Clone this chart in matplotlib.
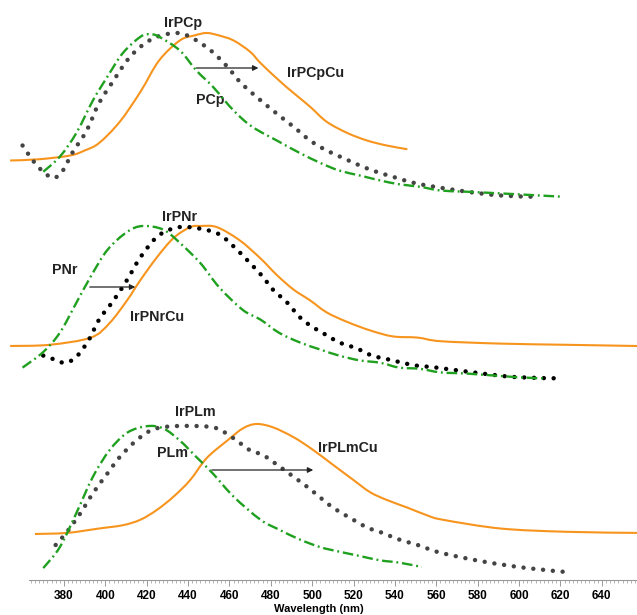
import numpy as np
import matplotlib
matplotlib.use("Agg")
import matplotlib.pyplot as plt
from matplotlib.path import Path
from matplotlib.patches import PathPatch

plt.rcParams['font.family'] = ['Liberation Sans', 'DejaVu Sans']

# --- panel 1: PCp / IrPCp / IrPCpCu (normalised intensity) ---
pcp_nm = [370, 378, 386, 394, 401, 408.5, 417, 421.5, 426, 436, 444, 452, 462, 471,
          484, 494, 504, 513, 523, 533, 542, 552, 562, 575, 599, 621]
pcp_int = [-0.11, 0.01, 0.20, 0.46, 0.65, 0.84, 0.97, 0.99, 0.97, 0.86, 0.70, 0.57,
           0.38, 0.25, 0.13, 0.04, -0.04, -0.10, -0.14, -0.18, -0.21, -0.23, -0.26,
           -0.27, -0.29, -0.31]
irpcp_nm = [360, 365, 370, 375, 379.5, 384, 391, 397, 404, 410.5, 417, 425, 435, 442,
            451, 459, 465, 473, 484, 491, 499, 507, 515, 523, 531, 539, 547, 555.5,
            575, 591, 607]
irpcp_int = [0.10, -0.02, -0.11, -0.16, -0.10, 0.04, 0.22, 0.44, 0.62, 0.78, 0.89, 0.97,
             1.0, 0.96, 0.86, 0.73, 0.61, 0.49, 0.34, 0.25, 0.14, 0.06, 0.0, -0.06,
             -0.11, -0.15, -0.19, -0.22, -0.27, -0.30, -0.31]
irpcpcu_nm = [354, 368, 383, 390, 397, 407, 417, 426, 436, 443, 449, 455, 462, 470,
              475, 484, 491, 499, 507, 517, 526.5, 536, 546]
irpcpcu_int = [-0.02, -0.01, 0.02, 0.06, 0.12, 0.29, 0.53, 0.78, 0.94, 0.98, 1.0, 0.98,
               0.94, 0.85, 0.76, 0.62, 0.52, 0.41, 0.29, 0.20, 0.14, 0.10, 0.07]

# --- panel 2: PNr / IrPNr / IrPNrCu ---
pnr_nm = [360, 370, 378, 386, 393, 401, 410.5, 418, 428, 436, 446, 455, 466.5, 475,
          484, 494, 504, 513, 523, 533, 542, 552, 562, 575, 599, 612.5]
pnr_int = [-0.18, -0.05, 0.11, 0.36, 0.58, 0.80, 0.95, 1.0, 0.97, 0.86, 0.69, 0.49,
           0.30, 0.22, 0.11, 0.03, -0.03, -0.08, -0.12, -0.14, -0.18, -0.19, -0.22,
           -0.23, -0.26, -0.27]
irpnr_nm = [370, 375, 380.5, 386, 392, 397, 404, 410.5, 417, 425, 433, 441, 454, 462,
            470, 476, 481, 488, 494, 500, 507, 513, 521.5, 529, 539, 549, 560, 582.5,
            599, 621]
irpnr_int = [-0.08, -0.11, -0.14, -0.09, 0.05, 0.22, 0.38, 0.55, 0.74, 0.91, 0.98, 0.99,
             0.94, 0.83, 0.69, 0.58, 0.47, 0.36, 0.24, 0.16, 0.09, 0.03, -0.02, -0.08,
             -0.12, -0.16, -0.18, -0.23, -0.26, -0.27]
irpnrcu_nm = [354, 373, 393, 402, 410.5, 417, 425, 433, 441, 446, 454, 465, 475, 483,
              491, 499, 507, 517, 528, 539, 551, 562, 591, 623, 657]
irpnrcu_int = [0, 0.01, 0.07, 0.19, 0.38, 0.55, 0.74, 0.90, 0.99, 1.0, 0.99, 0.88, 0.73,
               0.59, 0.47, 0.38, 0.28, 0.20, 0.13, 0.08, 0.07, 0.04, 0.02, 0.01, 0]

# --- panel 3: PLm / IrPLm / IrPLmCu ---
plm_nm = [370, 378, 386, 394, 402, 410.5, 420, 428, 436, 444, 452, 462, 475, 484, 494,
          504, 513, 523, 533, 542, 553]
plm_int = [-0.31, -0.12, 0.19, 0.52, 0.76, 0.92, 0.98, 0.96, 0.85, 0.70, 0.55, 0.34,
           0.13, 0.04, -0.05, -0.12, -0.16, -0.20, -0.24, -0.26, -0.30]
irplm_nm = [376, 381.5, 388, 394, 401, 407, 415, 423, 433, 446, 454, 462, 470, 476,
            483, 491, 497.5, 504, 510, 518, 526.5, 534, 542, 551, 562, 582.5, 604, 625.5]
irplm_int = [-0.10, 0.02, 0.19, 0.37, 0.55, 0.70, 0.85, 0.95, 0.98, 0.98, 0.96, 0.87,
             0.76, 0.72, 0.63, 0.52, 0.43, 0.33, 0.24, 0.15, 0.06, 0.01, -0.05, -0.10,
             -0.17, -0.25, -0.31, -0.35]
irplmcu_nm = [366, 381.5, 397, 408.5, 417, 425, 433, 441, 449, 459, 466.5, 473, 481,
              491, 500, 510, 520, 528, 536, 546, 555.5, 563, 591, 623, 657]
irplmcu_int = [0, 0.01, 0.05, 0.08, 0.13, 0.22, 0.34, 0.49, 0.69, 0.85, 0.96, 1.0, 0.97,
               0.88, 0.77, 0.63, 0.49, 0.38, 0.31, 0.24, 0.17, 0.13, 0.05, 0.02, 0.01]

major_ticks = list(range(380, 641, 20))

# layout: vertical offset and height of each panel (axis units)
offsets = [422, 234, 46]
heights = [125, 120, 110]

ORANGE = '#f7941d'
GREEN = '#1fa01f'
dot_style = (0, (0.01, 2.2))
dashdot_style = (0, (4.5, 1.6, 0.8, 1.6))

panels = [
    (pcp_nm, pcp_int, irpcp_nm, irpcp_int, irpcpcu_nm, irpcpcu_int, '#444444'),
    (pnr_nm, pnr_int, irpnr_nm, irpnr_int, irpnrcu_nm, irpnrcu_int, '#000000'),
    (plm_nm, plm_int, irplm_nm, irplm_int, irplmcu_nm, irplmcu_int, '#444444'),
]


def smooth_curve(ax, x, y, **kw):
    # draw through the read points with Catmull-Rom style bezier segments
    p = np.column_stack([x, y]).astype(float)
    p_ext = np.vstack([p[0], p, p[-1]])
    verts = [p[0]]
    codes = [Path.MOVETO]
    for i in range(1, len(p_ext) - 2):
        p0, p1, p2, p3 = p_ext[i - 1], p_ext[i], p_ext[i + 1], p_ext[i + 2]
        verts += [p1 + (p2 - p0) / 6, p2 - (p3 - p1) / 6, p2]
        codes += [Path.CURVE4] * 3
    patch = PathPatch(Path(verts, codes), fill=False, **kw)
    ax.add_patch(patch)


fig = plt.figure(figsize=(6.37, 6.15), dpi=100)
ax = fig.add_axes([0, 35 / 615, 1, 580 / 615])

for (g_x, g_y, d_x, d_y, o_x, o_y, dcol), off, h in zip(panels, offsets, heights):
    smooth_curve(ax, o_x, off + h * np.array(o_y), edgecolor=ORANGE, lw=1.5, zorder=2)
    smooth_curve(ax, d_x, off + h * np.array(d_y), edgecolor=dcol, lw=3.2,
                 linestyle=dot_style, capstyle='round', zorder=3)
    smooth_curve(ax, g_x, off + h * np.array(g_y), edgecolor=GREEN, lw=1.7,
                 linestyle=dashdot_style, zorder=4)

lab = dict(fontsize=10.3, fontweight='bold', ha='center', va='center', color='#222222')
ax.text(437.5, 557, 'IrPCp', **lab)
ax.text(501.5, 507, 'IrPCpCu', **lab)
ax.text(450.5, 480, 'PCp', **lab)
ax.text(436, 363, 'IrPNr', **lab)
ax.text(380.5, 310, 'PNr', **lab)
ax.text(425, 263, 'IrPNrCu', **lab)
ax.text(443.5, 168, 'IrPLm', **lab)
ax.text(432.5, 127, 'PLm', **lab)
ax.text(517, 132, 'IrPLmCu', **lab)

arrow = dict(arrowstyle='-|>', color='#222222', lw=0.9, mutation_scale=8,
             shrinkA=0, shrinkB=0)
ax.annotate('', xy=(474, 512), xytext=(444, 512), arrowprops=arrow)
ax.annotate('', xy=(414.5, 293), xytext=(392.5, 293), arrowprops=arrow)
ax.annotate('', xy=(500.5, 110), xytext=(451.5, 110), arrowprops=arrow)

ax.set_xlim(349.1, 657)
ax.set_ylim(0, 580)
for s in ['top', 'right', 'left']:
    ax.spines[s].set_visible(False)
ax.spines['bottom'].set_color('#999999')
ax.spines['bottom'].set_linewidth(0.8)
ax.spines['bottom'].set_bounds(363, 657)
ax.set_yticks([])
ax.set_xticks(major_ticks)
ax.set_xticks(np.arange(364, 657, 2), minor=True)
ax.tick_params(axis='x', which='major', length=4, width=0.7, color='#999999',
               labelsize=8.5, pad=3)
ax.tick_params(axis='x', which='minor', length=2.5, width=0.5, color='#999999')
for t in ax.get_xticklabels():
    t.set_fontweight('bold')
ax.set_xlabel('Wavelength (nm)', fontsize=8, fontweight='bold', labelpad=2)

fig.savefig('out.png', dpi=100)
